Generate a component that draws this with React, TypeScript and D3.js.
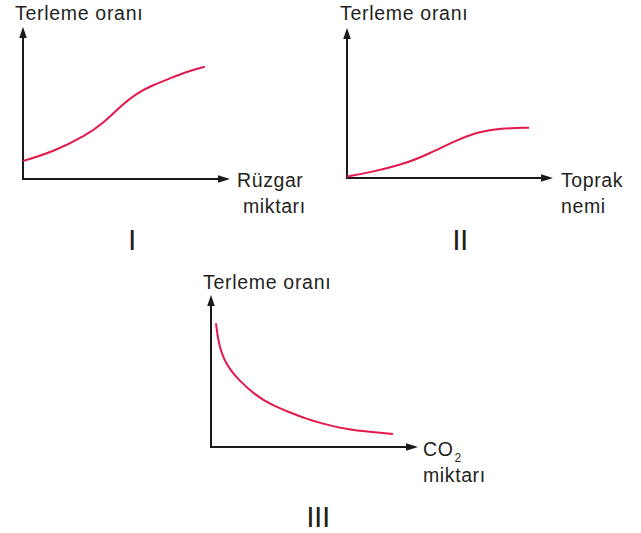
import React, { useRef, useEffect } from 'react';
import * as d3 from 'd3';

// curve readings, x and y both in 0..10 units along each axis
const windX = [0, 1.52, 3.18, 4.0, 4.85, 5.68, 6.5, 7.35, 8.18, 9.1];
const windY = [1.2, 1.82, 2.93, 3.71, 4.82, 5.71, 6.27, 6.71, 7.15, 7.49];
const soilX = [0, 1.32, 2.98, 4.15, 5.48, 6.6, 7.65, 9.1];
const soilY = [0.09, 0.42, 0.98, 1.65, 2.53, 3.09, 3.31, 3.35];
const co2X = [0.25, 0.37, 0.7, 1.37, 2.2, 3.03, 3.87, 4.7, 5.53, 6.8, 9.1];
const co2Y = [8.25, 6.91, 5.58, 4.47, 3.47, 2.8, 2.35, 1.91, 1.58, 1.13, 0.87];

const yTitle = 'Terleme oranı';
const xLabels = [['Rüzgar', 'miktarı'], ['Toprak', 'nemi'], ['CO', 'miktarı']];
const numerals = ['I', 'II', 'III'];

const RED = '#e3194d';
const FONT = '"Liberation Sans", Arial, sans-serif';

const App = () => {
  const svgRef = useRef();
  useEffect(() => {
    const svg = d3.select(svgRef.current);
    svg.selectAll('*').remove();

    const panels = [
      { ox: 23, oy: 179, xEnd: 230, yEnd: 27, xs: windX, ys: windY, titleX: 15, titleY: 20,
        labX: [237, 243], labY: [187, 213], numX: 132, numY: 250 },
      { ox: 347, oy: 178, xEnd: 553, yEnd: 28, xs: soilX, ys: soilY, titleX: 340, titleY: 20,
        labX: [561, 561], labY: [187, 213], numX: 460, numY: 250 },
      { ox: 211, oy: 447, xEnd: 418, yEnd: 295, xs: co2X, ys: co2Y, titleX: 203, titleY: 289,
        labX: [423, 423], labY: [456, 482], numX: 318, numY: 527 },
    ];

    panels.forEach((p, i) => {
      const g = svg.append('g');
      const x = d3.scaleLinear().domain([0, 10]).range([p.ox, p.ox + 200]);
      const y = d3.scaleLinear().domain([0, 10]).range([p.oy, p.oy - 150]);

      // axes with filled arrowheads
      g.append('line')
        .attr('x1', p.ox).attr('y1', p.oy).attr('x2', p.ox).attr('y2', p.yEnd + 8)
        .attr('stroke', '#1a1a1a').attr('stroke-width', 2);
      g.append('line')
        .attr('x1', p.ox - 1).attr('y1', p.oy).attr('x2', p.xEnd - 8).attr('y2', p.oy)
        .attr('stroke', '#1a1a1a').attr('stroke-width', 2);
      g.append('path')
        .attr('d', `M${p.ox},${p.yEnd} L${p.ox - 3.8},${p.yEnd + 11} L${p.ox + 3.8},${p.yEnd + 11} Z`)
        .attr('fill', '#1a1a1a');
      g.append('path')
        .attr('d', `M${p.xEnd},${p.oy} L${p.xEnd - 12},${p.oy - 3.8} L${p.xEnd - 12},${p.oy + 3.8} Z`)
        .attr('fill', '#1a1a1a');

      const line = d3.line()
        .x(d => x(d[0]))
        .y(d => y(d[1]))
        .curve(d3.curveBasis);
      g.append('path')
        .attr('d', line(d3.zip(p.xs, p.ys)))
        .attr('fill', 'none')
        .attr('stroke', RED)
        .attr('stroke-width', 2);

      const txt = (tx, ty, s, size, spacing) => g.append('text')
        .attr('x', tx).attr('y', ty)
        .attr('font-family', FONT)
        .attr('font-size', size)
        .attr('letter-spacing', spacing)
        .attr('fill', '#231f20')
        .text(s);

      txt(p.titleX, p.titleY, yTitle, 19.5, 0.7);
      const first = txt(p.labX[0], p.labY[0], xLabels[i][0], 19.5, 0.6);
      if (xLabels[i][0] === 'CO') {
        first.append('tspan').attr('font-size', 12).attr('dy', 6).attr('dx', 1).text('2');
      }
      txt(p.labX[1], p.labY[1], xLabels[i][1], 19.5, 0.6);
      txt(p.numX, p.numY, numerals[i], 30, -0.5).attr('text-anchor', 'middle');
    });
  }, []);
  return (
    <svg ref={svgRef} width={641} height={533}
      style={{ position: 'absolute', left: 0, top: 0, background: '#fff' }} />
  );
};

export default App;
